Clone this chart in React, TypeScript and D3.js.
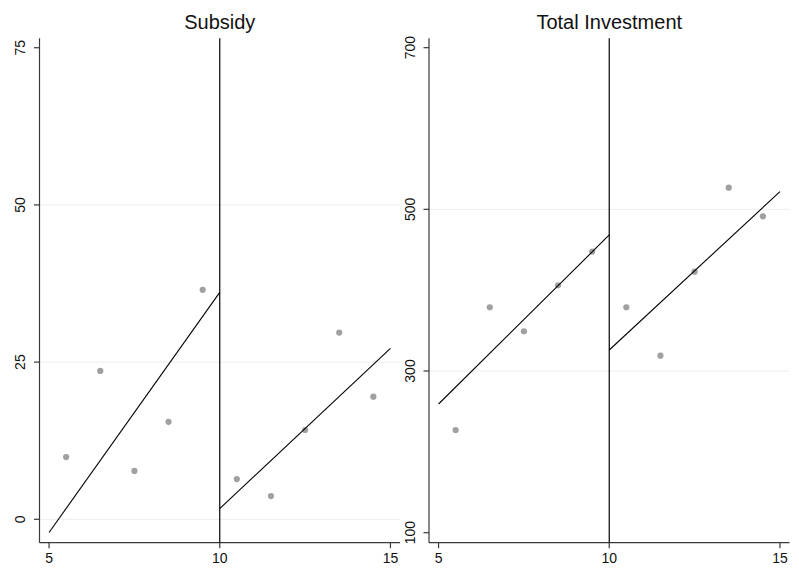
import React from "react";
import * as d3 from "d3";

const bins = [5.5, 6.5, 7.5, 8.5, 9.5, 10.5, 11.5, 12.5, 13.5, 14.5];
const subsidyValues = [9.9, 23.6, 7.7, 15.5, 36.5, 6.4, 3.7, 14.2, 29.7, 19.5];
const investmentValues = [227, 378.9, 349.2, 406.1, 447.7, 378.9, 319, 422.9, 526.8, 491.4];

const subsidyFitX = [[5, 10], [10, 15]];
const subsidyFitY = [[-2.1, 36.1], [1.7, 27.2]];
const investmentFitX = [[5, 10], [10, 15]];
const investmentFitY = [[259.2, 468.3], [326, 521.9]];

const xTicks = [5, 10, 15];
const subsidyTicks = [0, 25, 50, 75];
const subsidyGrid = [0, 25, 50];
const investmentTicks = [100, 300, 500, 700];
const investmentGrid = [300, 500];

const cutoff = 10;

type PanelProps = {
  title: string;
  left: number;
  right: number;
  yDomain: [number, number];
  values: number[];
  fitX: number[][];
  fitY: number[][];
  yTicks: number[];
  grid: number[];
};

const TOP = 38.3;
const BOTTOM = 542.7;
const FONT = "'Liberation Sans', Arial, Helvetica, sans-serif";

function Panel({ title, left, right, yDomain, values, fitX, fitY, yTicks, grid }: PanelProps) {
  const x = d3.scaleLinear().domain([4.72, 15.28]).range([left, right]);
  const y = d3.scaleLinear().domain(yDomain).range([BOTTOM, TOP]);
  const line = d3
    .line<[number, number]>()
    .x((d) => x(d[0]))
    .y((d) => y(d[1]));
  const axisColor = "#3a3a3a";
  return (
    <g>
      <text
        x={(left + right) / 2}
        y={29}
        textAnchor="middle"
        fontFamily={FONT}
        fontSize={20}
        fill="#111"
      >
        {title}
      </text>
      {grid.map((g) => (
        <line
          key={"g" + g}
          x1={left}
          x2={right}
          y1={y(g)}
          y2={y(g)}
          stroke="#e8eff0"
          strokeWidth={1}
        />
      ))}
      {/* y axis */}
      <line x1={left} x2={left} y1={TOP} y2={BOTTOM} stroke={axisColor} strokeWidth={1.2} />
      {yTicks.map((t) => (
        <g key={"yt" + t}>
          <line x1={left - 5.5} x2={left} y1={y(t)} y2={y(t)} stroke={axisColor} strokeWidth={1.2} />
          <text
            transform={`translate(${left - 14.5},${y(t)}) rotate(-90)`}
            textAnchor="middle"
            fontFamily={FONT}
            fontSize={14}
            fill="#111"
          >
            {t}
          </text>
        </g>
      ))}
      {/* x axis */}
      <line x1={left} x2={right} y1={BOTTOM} y2={BOTTOM} stroke={axisColor} strokeWidth={1.2} />
      {xTicks.map((t) => (
        <g key={"xt" + t}>
          <line x1={x(t)} x2={x(t)} y1={BOTTOM} y2={BOTTOM + 5.5} stroke={axisColor} strokeWidth={1.2} />
          <text
            x={x(t)}
            y={BOTTOM + 20.3}
            textAnchor="middle"
            fontFamily={FONT}
            fontSize={14}
            fill="#111"
          >
            {t}
          </text>
        </g>
      ))}
      {/* cutoff */}
      <line x1={x(cutoff)} x2={x(cutoff)} y1={TOP} y2={BOTTOM} stroke="#000" strokeWidth={1.2} />
      {/* points */}
      {bins.map((b, i) => (
        <circle key={"p" + i} cx={x(b)} cy={y(values[i])} r={3.1} fill="#a0a0a0" />
      ))}
      {/* fits */}
      {fitX.map((xs, i) => (
        <path
          key={"f" + i}
          d={line(xs.map((xv, j) => [xv, fitY[i][j]] as [number, number])) || ""}
          fill="none"
          stroke="#000"
          strokeWidth={1.1}
        />
      ))}
    </g>
  );
}

export default function App() {
  return (
    <svg
      width={799}
      height={571}
      style={{ position: "absolute", left: 0, top: 0, background: "#fff" }}
    >
      <rect x={0} y={0} width={799} height={571} fill="#fff" />
      <Panel
        title="Subsidy"
        left={39.5}
        right={400}
        yDomain={[-3.72, 76.5]}
        values={subsidyValues}
        fitX={subsidyFitX}
        fitY={subsidyFitY}
        yTicks={subsidyTicks}
        grid={subsidyGrid}
      />
      <Panel
        title="Total Investment"
        left={429}
        right={789.5}
        yDomain={[87.6, 711.6]}
        values={investmentValues}
        fitX={investmentFitX}
        fitY={investmentFitY}
        yTicks={investmentTicks}
        grid={investmentGrid}
      />
    </svg>
  );
}
